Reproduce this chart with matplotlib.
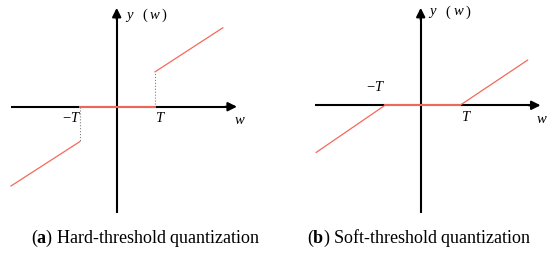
import matplotlib
matplotlib.use("Agg")
import matplotlib.pyplot as plt

plt.rcParams["mathtext.fontset"] = "custom"
plt.rcParams["mathtext.rm"] = "Liberation Serif"
plt.rcParams["mathtext.bf"] = "Liberation Serif:bold"
plt.rcParams["mathtext.it"] = "Liberation Serif:italic"

# ---- data (in units of the threshold T) ----
hard_upper_w = [1.0, 2.77]
hard_upper_y = [0.91, 2.06]
hard_lower_w = [-0.96, -2.76]
hard_lower_y = [-0.91, -2.07]
hard_zero_w = [-0.96, 1.0]
hard_zero_y = [0.0, 0.0]

soft_w = [-2.66, -0.91, 1.0, 2.72]
soft_y = [-1.2, 0.0, 0.0, 1.15]

captions = ["Hard-threshold quantization", "Soft-threshold quantization"]
letters = ["a", "b"]

RED = "#f4695a"
W, H = 550, 256
fig = plt.figure(figsize=(W / 100, H / 100), dpi=100)

serif = ["Liberation Serif", "DejaVu Serif"]


def make_ax(x0, x1, ox, oy, unit):
    ax = fig.add_axes([x0 / W, 0, (x1 - x0) / W, 1])
    ax.set_xlim(-(ox - x0) / unit, (x1 - ox) / unit)
    ax.set_ylim(-(H - oy) / unit, oy / unit)
    ax.axis("off")
    return ax


def draw_axes(ax, xl, xr, yb, yt):
    ax.plot([xl, xr - 0.1], [0, 0], color="black", lw=1.5, solid_capstyle="butt", zorder=2)
    ax.plot([0, 0], [yb, yt - 0.1], color="black", lw=1.5, solid_capstyle="butt", zorder=2)
    ap = dict(arrowstyle="-|>", color="black", lw=1.5, mutation_scale=13, shrinkA=0, shrinkB=0)
    ax.annotate("", xy=(xr, 0), xytext=(xr - 0.3, 0), arrowprops=ap)
    ax.annotate("", xy=(0, yt), xytext=(0, yt - 0.3), arrowprops=ap)


def ylabel(ax, x):
    ax.text(x, 2.38, "y", family=serif, style="italic", fontsize=10.5, ha="left", va="center")
    ax.text(x + 0.42, 2.38, "(", family=serif, fontsize=10.5, ha="left", va="center")
    ax.text(x + 0.62, 2.38, "w", family=serif, style="italic", fontsize=10.5, ha="left", va="center")
    ax.text(x + 0.93, 2.38, ")", family=serif, fontsize=10.5, ha="left", va="center")


# ---- left panel: hard threshold ----
axL = make_ax(0, 275, 116.7, 106.7, 38.3)
draw_axes(axL, -2.76, 3.14, -2.78, 2.58)
axL.plot(hard_upper_w, hard_upper_y, color=RED, lw=0.9, zorder=3)
axL.plot(hard_lower_w, hard_lower_y, color=RED, lw=0.9, zorder=3)
axL.plot(hard_zero_w, hard_zero_y, color=RED, lw=1.4, zorder=3)
axL.plot([hard_upper_w[0], hard_upper_w[0]], [0, hard_upper_y[0]], color="gray", lw=0.8, ls=":", zorder=1)
axL.plot([hard_lower_w[0], hard_lower_w[0]], [0, hard_lower_y[0]], color="gray", lw=0.8, ls=":", zorder=1)
axL.text(1.1, -0.15, "T", family=serif, style="italic", fontsize=10.5, ha="center", va="top")
axL.text(-0.98, -0.15, "\u2212T", family=serif, style="italic", fontsize=10.5, ha="right", va="top")
axL.text(3.2, -0.2, "w", family=serif, style="italic", fontsize=10.5, ha="center", va="top")
ylabel(axL, 0.25)

# ---- right panel: soft threshold ----
axR = make_ax(275, 550, 420.7, 105.3, 39.3)
draw_axes(axR, -2.68, 3.05, -2.74, 2.48)
axR.plot(soft_w, soft_y, color=RED, lw=0.9, zorder=3)
axR.plot(soft_w[1:3], soft_y[1:3], color=RED, lw=1.4, zorder=3)
axR.text(1.14, -0.15, "T", family=serif, style="italic", fontsize=10.5, ha="center", va="top")
axR.text(-1.17, 0.45, "\u2212T", family=serif, style="italic", fontsize=10.5, ha="center", va="center")
axR.text(3.07, -0.2, "w", family=serif, style="italic", fontsize=10.5, ha="center", va="top")
ylabel(axR, 0.22)

# ---- captions ----
for cx, letter, cap in zip([146, 419], letters, captions):
    fig.text(cx / W, 1 - 238 / H, r"($\mathbf{" + letter + r"}$) " + cap,
             family=serif, fontsize=13, ha="center", va="center")

fig.savefig("out.png", dpi=100)
